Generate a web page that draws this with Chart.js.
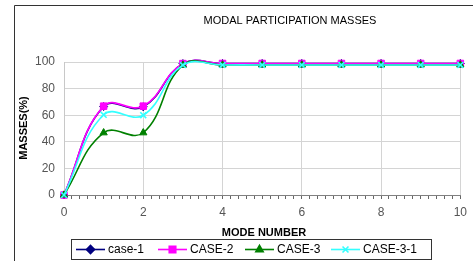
<!DOCTYPE html>
<html>
<head>
<meta charset="utf-8">
<script src="https://cdn.jsdelivr.net/npm/chart.js@4/dist/chart.umd.min.js"></script>
<style>
  html, body { margin: 0; padding: 0; background: #fff; }
  #wrap { width: 473px; height: 261px; }
</style>
</head>
<body>
<div id="wrap"><canvas id="myChart" width="473" height="261"></canvas></div>
<script>
const modos = [0, 1, 2, 3, 4, 5, 6, 7, 8, 9, 10]
const case1 = [0, 66.5, 66.3, 98.8, 98.9, 98.9, 98.9, 98.9, 98.9, 98.9, 98.9]
const case2 = [0, 66.8, 66.8, 98.8, 98.9, 98.9, 98.9, 98.9, 98.9, 98.9, 98.9]
const case3 = [0, 46.8, 46.8, 97.7, 97.8, 97.8, 97.8, 97.8, 97.8, 97.8, 97.8]
const case31 = [0, 60.3, 60.0, 97.7, 97.8, 97.8, 97.8, 97.8, 97.8, 97.8, 97.8]
const nombres = ["case-1", "CASE-2", "CASE-3", "CASE-3-1"]
const yTicks = [0, 20, 40, 60, 80, 100]
const xLabels = [0, 2, 4, 6, 8, 10]

const chartDOM = document.getElementById("myChart").getContext("2d")

function puntos(valores) {
  return valores.map((v, i) => ({ x: modos[i], y: v }))
}

const estilos = [
  { color: "#000080", forma: "rectRot", radio: 4 },
  { color: "#ff00ff", forma: "rect", radio: 4.6 },
  { color: "#008000", forma: "triangle", radio: 4.2 },
  { color: "#33ffff", forma: "crossRot", radio: 4.2 }
]
const series = [case1, case2, case3, case31]

const datasets = series.map((s, i) => ({
  label: nombres[i],
  data: puntos(s),
  borderColor: estilos[i].color,
  backgroundColor: estilos[i].color,
  pointStyle: estilos[i].forma,
  pointRadius: estilos[i].radio,
  pointBorderWidth: estilos[i].forma === "crossRot" ? 1.6 : 1,
  borderWidth: 1.6,
  tension: 0.42,
  clip: false,
  order: 4 - i
}))

const fuente = "'Liberation Sans', Arial, sans-serif"

// titulo, ejes, borde y leyenda
const dibujoExtra = {
  id: "dibujoExtra",
  afterDraw(chart) {
    const ctx = chart.ctx
    ctx.save()
    ctx.strokeStyle = "#333"
    ctx.lineWidth = 1
    ctx.beginPath()
    ctx.moveTo(14.5, 261)
    ctx.lineTo(14.5, 5.5)
    ctx.lineTo(473, 5.5)
    ctx.stroke()

    ctx.fillStyle = "#000"
    ctx.textAlign = "center"
    ctx.textBaseline = "middle"
    ctx.font = "11px " + fuente
    ctx.fillText("MODAL PARTICIPATION MASSES", 290, 21)

    ctx.font = "bold 11px " + fuente
    ctx.fillText("MODE NUMBER", 264, 233)
    ctx.save()
    ctx.translate(24, 128)
    ctx.rotate(-Math.PI / 2)
    ctx.fillText("MASSES(%)", 0, 0)
    ctx.restore()

    // leyenda
    ctx.strokeStyle = "#333"
    ctx.strokeRect(71.5, 239.5, 360, 20)
    const xs = [76, 158, 245, 331]
    const yc = 249.5
    chart.data.datasets.forEach((ds, i) => {
      const x0 = xs[i]
      ctx.strokeStyle = ds.borderColor
      ctx.lineWidth = 1.6
      ctx.beginPath()
      ctx.moveTo(x0, yc)
      ctx.lineTo(x0 + 29, yc)
      ctx.stroke()
      Chart.helpers.drawPoint(ctx, {
        pointStyle: ds.pointStyle,
        radius: ds.pointRadius,
        borderWidth: ds.pointBorderWidth
      }, x0 + 14.5, yc)
      ctx.fillStyle = ds.borderColor
      if (ds.pointStyle !== "crossRot") ctx.fill()
      ctx.fillStyle = "#000"
      ctx.textAlign = "left"
      ctx.font = "12px " + fuente
      ctx.fillText(ds.label, x0 + 32, yc)
    })
    ctx.restore()
  }
}

function esPar(v) {
  const r = Math.round(v)
  return Math.abs(v - r) < 1e-6 && r % 2 === 0
}

const config = {
  type: "line",
  data: { datasets },
  options: {
    responsive: false,
    animation: false,
    layout: { padding: { top: 62, right: 10, left: 0, bottom: 0 } },
    elements: { line: { capBezierPoints: false } },
    plugins: { legend: { display: false }, title: { display: false }, tooltip: { enabled: false } },
    scales: {
      x: {
        type: "linear",
        min: 0,
        max: 10,
        afterFit(scale) { scale.height = 66 },
        afterBuildTicks(scale) {
          const t = []
          for (let i = 0; i <= 50; i++) t.push({ value: i * 0.2 })
          scale.ticks = t
        },
        ticks: {
          autoSkip: false,
          maxRotation: 0,
          padding: 6,
          color: "#555",
          font: { family: fuente, size: 12 },
          callback: (v) => esPar(v) && xLabels.includes(Math.round(v)) ? String(Math.round(v)) : ""
        },
        grid: {
          color: (c) => c.tick && esPar(c.tick.value) ? "#d4d4d4" : "rgba(0,0,0,0)",
          tickColor: "#666",
          tickLength: 4
        },
        border: { color: "#808080", width: 1 }
      },
      y: {
        min: 0,
        max: 100,
        afterFit(scale) { scale.width = 64 },
        afterBuildTicks(scale) {
          scale.ticks = yTicks.map(v => ({ value: v }))
        },
        ticks: {
          padding: 9,
          color: "#555",
          font: { family: fuente, size: 12 }
        },
        grid: { color: "#d4d4d4", drawTicks: false },
        border: { color: "#c8c8c8", width: 1 }
      }
    }
  },
  plugins: [dibujoExtra]
}

new Chart(chartDOM, config)
</script>
</body>
</html>
